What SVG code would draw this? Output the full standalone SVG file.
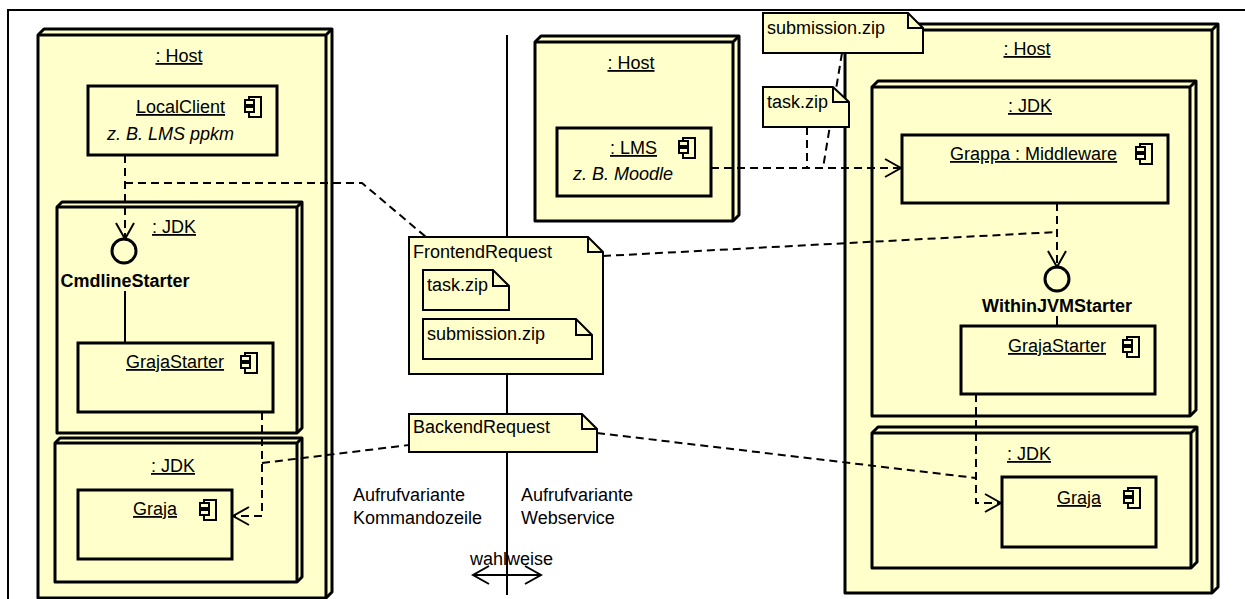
<svg xmlns="http://www.w3.org/2000/svg" xmlns:xlink="http://www.w3.org/1999/xlink" width="1245" height="599" viewBox="0 0 1245 599">
<style>
text{font-family:"Liberation Sans",Arial,sans-serif;font-size:18px;fill:#000}
.u{text-decoration:underline}
.it{font-style:italic}
.b{font-weight:bold}
.mid{text-anchor:middle}
.node polygon{fill:#FFFFCC;stroke:#000;stroke-width:3;stroke-linejoin:round}
.node path{fill:none;stroke:#000;stroke-width:3}
.comp{fill:#FFFFCC;stroke:#000;stroke-width:3}
.note polygon{fill:#FFFFCC;stroke:#000;stroke-width:2}
.note path{fill:none;stroke:#000;stroke-width:2}
.dash{fill:none;stroke:#000;stroke-width:2;stroke-dasharray:8,5}
.solid{fill:none;stroke:#000;stroke-width:2}
.iface{fill:#FFFFCC;stroke:#000;stroke-width:3}
</style>
<defs>
<g id="icon">
<rect x="4" y="0" width="12" height="20" fill="#FFFFCC" stroke="#000" stroke-width="2"/>
<rect x="0" y="3" width="9" height="5" fill="#FFFFCC" stroke="#000" stroke-width="2"/>
<rect x="0" y="10" width="9" height="5" fill="#FFFFCC" stroke="#000" stroke-width="2"/>
</g>
<marker id="open" viewBox="-18 -11 20 22" refX="0" refY="0" markerWidth="20" markerHeight="22" markerUnits="userSpaceOnUse" orient="auto-start-reverse">
<path d="M-16,-9 L0,0 L-16,9" fill="none" stroke="#000" stroke-width="2"/>
</marker>
</defs>
<rect width="1245" height="599" fill="#fff"/>
<g id="frame">
<path d="M8,599 V10 H1245" fill="none" stroke="#000" stroke-width="2"/>
</g>
<g id="separator">
<line x1="507" y1="35" x2="507" y2="595" class="solid"/>
</g>

<g id="left-host" class="node">
<polygon points="38,35 44,29 332,29 332,592 326,598 38,598"/>
<path d="M38,35 H326 V598 M326,35 L332,29"/>
<text x="179" y="62" class="u mid">: Host</text>
</g>
<g id="local-client">
<rect x="88" y="86" width="189" height="69" class="comp"/>
<use xlink:href="#icon" x="245" y="97"/>
<text x="136" y="113" class="u">LocalClient</text>
<text x="107" y="140" class="it">z. B. LMS ppkm</text>
</g>
<g id="left-jdk-1" class="node">
<polygon points="57,207 62,202 302,202 302,428 297,433 57,433"/>
<path d="M57,207 H297 V433 M297,207 L302,202"/>
<text x="174" y="233" class="u mid">: JDK</text>
</g>
<g id="cmdline-starter">
<circle cx="124" cy="251" r="12" class="iface"/>
<text x="125" y="287" class="b mid">CmdlineStarter</text>
</g>
<g id="left-graja-starter">
<rect x="78" y="343" width="195" height="69" class="comp"/>
<use xlink:href="#icon" x="241" y="353"/>
<text x="126" y="368" class="u">GrajaStarter</text>
</g>
<g id="left-jdk-2" class="node">
<polygon points="55,443 60,438 302,438 302,577 297,582 55,582"/>
<path d="M55,443 H297 V582 M297,443 L302,438"/>
<text x="173" y="472" class="u mid">: JDK</text>
</g>
<g id="left-graja">
<rect x="78" y="490" width="154" height="69" class="comp"/>
<use xlink:href="#icon" x="200" y="500"/>
<text x="133" y="515" class="u">Graja</text>
</g>

<g id="mid-host" class="node">
<polygon points="535,42 541,36 739,36 739,215 733,221 535,221"/>
<path d="M535,42 H733 V221 M733,42 L739,36"/>
<text x="631" y="69" class="u mid">: Host</text>
</g>
<g id="lms">
<rect x="557" y="128" width="154" height="68" class="comp"/>
<use xlink:href="#icon" x="679" y="138"/>
<text x="610" y="154" class="u">: LMS</text>
<text x="573" y="180" class="it">z. B. Moodle</text>
</g>

<g id="right-host" class="node">
<polygon points="845,30 851,24 1218,24 1218,587 1212,593 845,593"/>
<path d="M845,30 H1212 V593 M1212,30 L1218,24"/>
<text x="1027" y="55" class="u mid">: Host</text>
</g>
<g id="right-jdk-1" class="node">
<polygon points="872,87 878,81 1196,81 1196,410 1190,416 872,416"/>
<path d="M872,87 H1190 V416 M1190,87 L1196,81"/>
<text x="1030" y="112" class="u mid">: JDK</text>
</g>
<g id="grappa">
<rect x="902" y="135" width="266" height="68" class="comp"/>
<use xlink:href="#icon" x="1136" y="144"/>
<text x="950" y="160" class="u">Grappa : Middleware</text>
</g>
<g id="within-jvm-starter">
<circle cx="1057" cy="279" r="12" class="iface"/>
<text x="1057" y="312" class="b mid">WithinJVMStarter</text>
</g>
<g id="right-graja-starter">
<rect x="961" y="326" width="194" height="68" class="comp"/>
<use xlink:href="#icon" x="1123" y="337"/>
<text x="1008" y="352" class="u">GrajaStarter</text>
</g>
<g id="right-jdk-2" class="node">
<polygon points="872,433 878,427 1197,427 1197,562 1191,568 872,568"/>
<path d="M872,433 H1191 V568 M1191,433 L1197,427"/>
<text x="1029" y="460" class="u mid">: JDK</text>
</g>
<g id="right-graja">
<rect x="1002" y="477" width="154" height="70" class="comp"/>
<use xlink:href="#icon" x="1124" y="488"/>
<text x="1057" y="504" class="u">Graja</text>
</g>

<g id="connectors">
<line x1="125" y1="155" x2="125" y2="239" class="dash" marker-end="url(#open)"/>
<line x1="125" y1="291" x2="125" y2="343" class="solid"/>
<path d="M262,412 V516 H233" class="dash" marker-end="url(#open)"/>
<line x1="711" y1="168" x2="901" y2="168" class="dash" marker-end="url(#open)"/>
<line x1="1057" y1="203" x2="1057" y2="267" class="dash" marker-end="url(#open)"/>
<line x1="1057" y1="316" x2="1057" y2="326" class="solid"/>
<path d="M976,394 V503 H1001" class="dash" marker-end="url(#open)"/>
<path d="M125,183 H362 L426,237" class="dash"/>
<line x1="603" y1="256" x2="1057" y2="232" class="dash"/>
<line x1="262" y1="463" x2="409" y2="445" class="dash"/>
<line x1="597" y1="433" x2="976" y2="478" class="dash"/>
<line x1="807" y1="127" x2="807" y2="168" class="dash"/>
<line x1="842" y1="53" x2="823" y2="168" class="dash"/>
<line x1="473" y1="575" x2="541" y2="575" class="solid" marker-start="url(#open)" marker-end="url(#open)"/>
</g>

<g id="frontend-request" class="note">
<polygon points="409,237 588,237 603,252 603,374 409,374"/>
<path d="M588,237 V252 H603"/>
<text x="413" y="258">FrontendRequest</text>
</g>
<g id="fr-task-zip" class="note">
<polygon points="423,270 493,270 509,286 509,310 423,310"/>
<path d="M493,270 V286 H509"/>
<text x="427" y="291">task.zip</text>
</g>
<g id="fr-submission-zip" class="note">
<polygon points="423,319 576,319 592,335 592,359 423,359"/>
<path d="M576,319 V335 H592"/>
<text x="427" y="340">submission.zip</text>
</g>
<g id="backend-request" class="note">
<polygon points="409,414 582,414 597,429 597,452 409,452"/>
<path d="M582,414 V429 H597"/>
<text x="413" y="433">BackendRequest</text>
</g>
<g id="submission-zip" class="note">
<polygon points="763,13 908,13 923,28 923,53 763,53"/>
<path d="M908,13 V28 H923"/>
<text x="767" y="34">submission.zip</text>
</g>
<g id="task-zip" class="note">
<polygon points="763,87 833,87 849,102 849,127 763,127"/>
<path d="M833,87 V102 H849"/>
<text x="767" y="108">task.zip</text>
</g>

<g id="labels">
<text x="353" y="501">Aufrufvariante</text>
<text x="353" y="524">Kommandozeile</text>
<text x="521" y="501">Aufrufvariante</text>
<text x="521" y="524">Webservice</text>
<text x="470" y="565">wahlweise</text>
</g>
</svg>
